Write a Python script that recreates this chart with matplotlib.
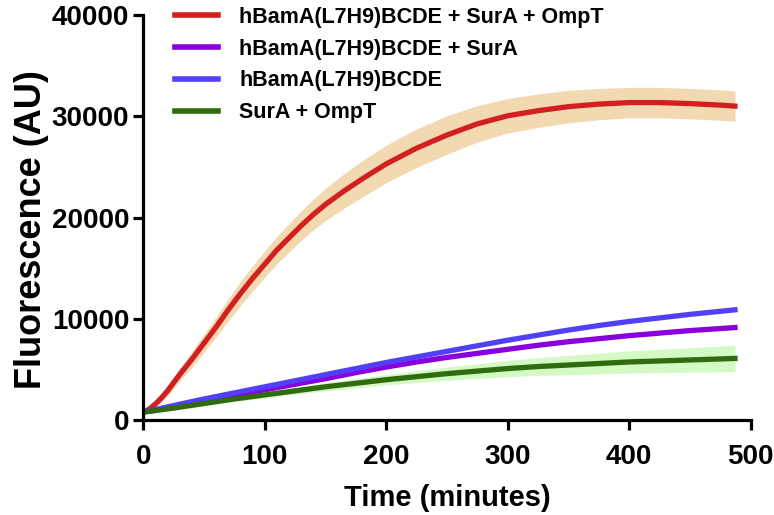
import matplotlib.pyplot as plt
import numpy as np

plt.rcParams['font.family'] = ['Liberation Sans', 'DejaVu Sans']
plt.rcParams['font.weight'] = 'bold'

# red trace is read on a finer grid (fast rise at the start)
red_time = [0, 5, 10, 15, 20, 30, 40, 50, 60, 70, 80, 90, 100, 110, 120, 130,
            140, 150, 165, 180, 200, 225, 250, 275, 300, 325, 350, 375, 400,
            425, 450, 475, 487]
red_mean = [800, 1100, 1600, 2200, 2900, 4500, 6000, 7600, 9200, 10900, 12500,
            14000, 15400, 16800, 18000, 19200, 20300, 21300, 22600, 23800,
            25300, 26850, 28150, 29250, 30050, 30550, 30950, 31200, 31350,
            31350, 31250, 31100, 31000]
red_err = [150, 200, 300, 400, 500, 650, 800, 900, 1000, 1100, 1200, 1250, 1300,
           1350, 1400, 1450, 1500, 1600, 1700, 1800, 1850, 1900, 1900, 1800,
           1700, 1650, 1600, 1550, 1500, 1500, 1500, 1500, 1500]

# other traces
time_min = [0, 10, 25, 50, 75, 100, 125, 150, 175, 200, 225, 250, 275,
            300, 325, 350, 375, 400, 425, 450, 475, 487]

purple_mean = [800, 1000, 1350, 1950, 2500, 3000, 3550, 4100, 4700, 5250, 5750,
               6200, 6600, 7000, 7400, 7750, 8050, 8350, 8600, 8850, 9050, 9150]

blue_mean = [800, 1050, 1450, 2100, 2700, 3300, 3900, 4500, 5100, 5700, 6250,
             6800, 7350, 7900, 8400, 8900, 9350, 9750, 10100, 10450, 10750, 10900]

green_mean = [800, 950, 1200, 1650, 2100, 2500, 2900, 3300, 3650, 4000, 4300,
              4600, 4850, 5100, 5300, 5450, 5600, 5750, 5850, 5950, 6050, 6100]
green_err = [100, 120, 150, 200, 250, 300, 350, 400, 450, 500, 580, 650, 720,
             800, 870, 950, 1020, 1100, 1150, 1200, 1270, 1300]

labels = ['hBamA(L7H9)BCDE + SurA + OmpT',
          'hBamA(L7H9)BCDE + SurA',
          'hBamA(L7H9)BCDE',
          'SurA + OmpT']

fig = plt.figure(figsize=(7.74, 5.15), dpi=100)
ax = fig.add_axes([0.185, 0.184, 0.785, 0.787])

tr = np.array(red_time)
r = np.array(red_mean)
re = np.array(red_err)
t = np.array(time_min)
g = np.array(green_mean)
ge = np.array(green_err)

ax.fill_between(tr, r - re, r + re, color='#f3d9b2', lw=0)
ax.fill_between(t, g - ge, g + ge, color='#d3f9c4', lw=0)

ax.plot(tr, red_mean, color='#d21f1f', lw=3.8, label=labels[0])
ax.plot(t, purple_mean, color='#8a00dc', lw=3.8, label=labels[1])
ax.plot(t, blue_mean, color='#5240f8', lw=3.8, label=labels[2])
ax.plot(t, green_mean, color='#306b10', lw=3.8, label=labels[3])

ax.set_xlim(0, 500)
ax.set_ylim(0, 40000)
ax.set_xticks(np.arange(0, 501, 100))
ax.set_yticks(np.arange(0, 40001, 10000))

for s in ['top', 'right']:
    ax.spines[s].set_visible(False)
for s in ['left', 'bottom']:
    ax.spines[s].set_linewidth(2.3)
ax.tick_params(width=2.3, length=7, labelsize=20)
ax.tick_params(axis='y', pad=3)
ax.tick_params(axis='x', pad=10)

ax.set_xlabel('Time (minutes)', fontsize=21, fontweight='bold', labelpad=10)
ax.set_ylabel('Fluorescence (AU)', fontsize=26, fontweight='bold', labelpad=1)
ax.yaxis.set_label_coords(-0.155, 0.47)

leg = ax.legend(loc='upper left', bbox_to_anchor=(0.02, 1.068), frameon=False,
                fontsize=15.5, handlelength=2.0, handletextpad=1.0,
                labelspacing=0.5)
for line in leg.get_lines():
    line.set_linewidth(4)

fig.savefig('out.png', dpi=100)
